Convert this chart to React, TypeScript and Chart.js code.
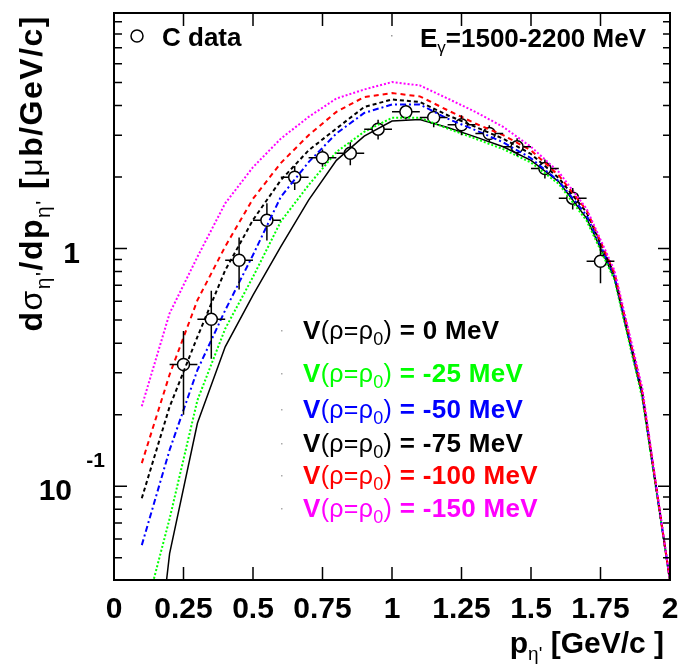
import React, { useEffect, useRef } from "react";
import { Chart, registerables } from "chart.js";

Chart.register(...registerables);

// ---------- data ----------
const curveP = [0.1, 0.2, 0.3, 0.4, 0.5, 0.6, 0.7, 0.8, 0.9, 1.0, 1.1, 1.2, 1.3, 1.4, 1.5, 1.6, 1.7, 1.8, 1.9, 2.0];
const v0 = [0.005, 0.052, 0.184, 0.386, 0.637, 1.02, 1.6, 2.35, 2.97, 3.44, 3.49, 3.23, 2.95, 2.68, 2.35, 1.91, 1.34, 0.75, 0.24, 0.04];
const v25 = [0.026, 0.073, 0.23, 0.46, 0.76, 1.3, 1.85, 2.55, 3.1, 3.55, 3.55, 3.2, 2.9, 2.62, 2.3, 1.87, 1.31, 0.74, 0.235, 0.04];
const v50 = [0.0565, 0.142, 0.308, 0.55, 0.94, 1.65, 2.31, 3.05, 3.72, 4.04, 4.04, 3.52, 3.15, 2.8, 2.4, 1.92, 1.38, 0.77, 0.245, 0.04];
const v75 = [0.089, 0.216, 0.425, 0.81, 1.32, 1.94, 2.59, 3.2, 3.94, 4.24, 4.14, 3.64, 3.25, 2.9, 2.5, 1.98, 1.42, 0.78, 0.25, 0.04];
const v100 = [0.125, 0.295, 0.606, 1.02, 1.62, 2.29, 3.0, 3.76, 4.34, 4.51, 4.37, 3.82, 3.36, 3.0, 2.59, 2.03, 1.45, 0.79, 0.25, 0.04];
const v150 = [0.217, 0.534, 0.922, 1.55, 2.2, 2.9, 3.58, 4.28, 4.67, 5.02, 4.86, 4.28, 3.76, 3.25, 2.68, 2.1, 1.47, 0.81, 0.26, 0.04];

const dataP = [0.25, 0.35, 0.45, 0.55, 0.65, 0.75, 0.85, 0.95, 1.05, 1.15, 1.25, 1.35, 1.45, 1.55, 1.65, 1.75];
const dataY = [0.325, 0.504, 0.893, 1.316, 1.995, 2.41, 2.52, 3.18, 3.76, 3.56, 3.32, 3.05, 2.68, 2.17, 1.63, 0.884];
const dataErr = [0.125, 0.16, 0.22, 0.235, 0.23, 0.2, 0.28, 0.3, 0.27, 0.32, 0.32, 0.25, 0.23, 0.2, 0.17, 0.17];
const dataXErr = 0.05;

const xTicks = [0, 0.25, 0.5, 0.75, 1, 1.25, 1.5, 1.75, 2];
const xTickLabels = ["0", "0.25", "0.5", "0.75", "1", "1.25", "1.5", "1.75", "2"];
const yMajor = [0.1, 1];
const yMinor = [0.05, 0.06, 0.07, 0.08, 0.09, 0.2, 0.3, 0.4, 0.5, 0.6, 0.7, 0.8, 0.9, 2, 3, 4, 5, 6, 7, 8, 9];

const potentials = ["0", "-25", "-50", "-75", "-100", "-150"];
const seriesColors = ["#000000", "#00ff00", "#0000ff", "#000000", "#ff0000", "#ff00ff"];

const FONT = '"Liberation Sans", Arial, Helvetica, sans-serif';

type Seg = { t: string; size: number; bold?: boolean; dy?: number; color?: string };

function font(size: number, bold?: boolean) {
  return `${bold ? "bold " : ""}${size}px ${FONT}`;
}

function drawRich(
  ctx: CanvasRenderingContext2D,
  segs: Seg[],
  x: number,
  y: number,
  align: "left" | "right" | "center",
  color: string,
  spacing = 0
) {
  let total = 0;
  for (const s of segs) {
    ctx.font = font(s.size, s.bold);
    for (const ch of Array.from(s.t)) total += ctx.measureText(ch).width + spacing;
  }
  let cx = align === "right" ? x - total : align === "center" ? x - total / 2 : x;
  ctx.textAlign = "left";
  ctx.textBaseline = "alphabetic";
  for (const s of segs) {
    ctx.font = font(s.size, s.bold);
    ctx.fillStyle = s.color || color;
    if (spacing === 0) {
      ctx.fillText(s.t, cx, y + (s.dy || 0));
      cx += ctx.measureText(s.t).width;
    } else {
      for (const ch of Array.from(s.t)) {
        ctx.fillText(ch, cx, y + (s.dy || 0));
        cx += ctx.measureText(ch).width + spacing;
      }
    }
  }
}

const decor = {
  id: "decor",
  afterDatasetsDraw(chart: any) {
    const ctx: CanvasRenderingContext2D = chart.ctx;
    const xs = chart.scales.x;
    const ys = chart.scales.y;
    const { left, right, top, bottom } = chart.chartArea;
    ctx.save();

    // error bars
    ctx.strokeStyle = "#000";
    ctx.lineWidth = 1.5;
    const r = 6;
    dataP.forEach((p, i) => {
      const px = xs.getPixelForValue(p);
      const py = ys.getPixelForValue(dataY[i]);
      const yHi = ys.getPixelForValue(dataY[i] + dataErr[i]);
      const yLo = ys.getPixelForValue(dataY[i] - dataErr[i]);
      const xL = xs.getPixelForValue(p - dataXErr);
      const xR = xs.getPixelForValue(p + dataXErr);
      ctx.beginPath();
      if (py - r > yHi) { ctx.moveTo(px, py - r); ctx.lineTo(px, yHi); }
      if (py + r < yLo) { ctx.moveTo(px, py + r); ctx.lineTo(px, yLo); }
      ctx.moveTo(px - r, py); ctx.lineTo(xL, py);
      ctx.moveTo(px + r, py); ctx.lineTo(xR, py);
      ctx.stroke();
    });

    // frame
    ctx.lineWidth = 2;
    ctx.strokeStyle = "#000";
    ctx.strokeRect(left, top, right - left, bottom - top);

    // ticks
    ctx.lineWidth = 1.5;
    ctx.beginPath();
    xTicks.forEach((v) => {
      const px = xs.getPixelForValue(v);
      ctx.moveTo(px, bottom); ctx.lineTo(px, bottom - 13);
      ctx.moveTo(px, top); ctx.lineTo(px, top + 13);
    });
    yMajor.forEach((v) => {
      const py = ys.getPixelForValue(v);
      ctx.moveTo(left, py); ctx.lineTo(left + 13, py);
      ctx.moveTo(right, py); ctx.lineTo(right - 12, py);
    });
    yMinor.forEach((v) => {
      const py = ys.getPixelForValue(v);
      ctx.moveTo(left, py); ctx.lineTo(left + 8, py);
      ctx.moveTo(right, py); ctx.lineTo(right - 7, py);
    });
    ctx.stroke();

    // x tick labels
    ctx.fillStyle = "#000";
    ctx.font = font(30, true);
    ctx.textAlign = "center";
    ctx.textBaseline = "alphabetic";
    xTicks.forEach((v, i) => {
      ctx.fillText(xTickLabels[i], xs.getPixelForValue(v), 618);
    });

    // y tick labels
    ctx.textAlign = "right";
    ctx.font = font(30, true);
    ctx.fillText("1", 80, ys.getPixelForValue(1) + 14);
    ctx.fillText("10", 72, ys.getPixelForValue(0.1) + 14);
    ctx.font = font(21, true);
    ctx.fillText("-1", 105, ys.getPixelForValue(0.1) - 19);

    // x title
    drawRich(ctx, [
      { t: "p", size: 30, bold: true },
      { t: "η'", size: 19, dy: 7 },
      { t: " [GeV/c ]", size: 30, bold: true },
    ], 664, 653, "right", "#000");

    // y title (rotated)
    ctx.save();
    ctx.translate(42, 15);
    ctx.rotate(-Math.PI / 2);
    drawRich(ctx, [
      { t: "d", size: 32, bold: true },
      { t: "σ", size: 32 },
      { t: "η'", size: 21, dy: 8 },
      { t: "/dp", size: 32, bold: true },
      { t: "η'", size: 21, dy: 8 },
      { t: " [", size: 32, bold: true },
      { t: "μ", size: 32 },
      { t: "b/GeV/c]", size: 32, bold: true },
    ], 0, 0, "right", "#000", 1.5);
    ctx.restore();

    // "C data" legend
    ctx.beginPath();
    ctx.lineWidth = 1.5;
    ctx.arc(137, 36, 6, 0, Math.PI * 2);
    ctx.stroke();
    ctx.font = font(26, true);
    ctx.textAlign = "left";
    ctx.fillStyle = "#000";
    ctx.fillText("C data", 162, 46);

    // energy label
    ctx.fillStyle = "#999";
    ctx.fillRect(391, 35, 1.5, 1.5);
    drawRich(ctx, [
      { t: "E", size: 26, bold: true },
      { t: "γ", size: 17, dy: 6 },
      { t: "=1500-2200 MeV", size: 26, bold: true },
    ], 646, 47, "right", "#000");

    // potentials legend
    const baselines = [339, 382, 418, 452, 484, 517];
    potentials.forEach((pv, i) => {
      const c = seriesColors[i];
      const yb = baselines[i];
      ctx.fillStyle = "#aaa";
      ctx.fillRect(281, yb - 9, 1.5, 1.5);
      drawRich(ctx, [
        { t: "V", size: 26, bold: true },
        { t: "(ρ=ρ", size: 25 },
        { t: "0", size: 18, dy: 6 },
        { t: ")", size: 25 },
        { t: ` = ${pv} MeV`, size: 26, bold: true },
      ], 303, yb, "left", c, 0.3);
    });

    ctx.restore();
  },
};

function mk(vals: number[]) {
  return curveP.map((p, i) => ({ x: p, y: vals[i] }));
}

export default function App() {
  const ref = useRef<HTMLCanvasElement | null>(null);
  useEffect(() => {
    if (!ref.current) return;
    const line = (label: string, vals: number[], color: string, dash: number[], width: number) => ({
      label,
      data: mk(vals),
      borderColor: color,
      borderWidth: width,
      borderDash: dash,
      pointRadius: 0,
      fill: false,
      tension: 0,
    });
    const chart = new Chart(ref.current, {
      type: "line",
      data: {
        datasets: [
          line("-150 MeV", v150, "#ff00ff", [2, 2], 2),
          line("-100 MeV", v100, "#ff0000", [5, 4], 2),
          line("-75 MeV", v75, "#000000", [4, 3], 2),
          line("-50 MeV", v50, "#0000ff", [6, 3, 2, 3], 2),
          line("-25 MeV", v25, "#00ff00", [2, 2], 2),
          line("0 MeV", v0, "#000000", [], 1.5),
          {
            label: "C data",
            type: "scatter",
            data: dataP.map((p, i) => ({ x: p, y: dataY[i] })),
            pointRadius: 6,
            pointBorderWidth: 1.5,
            borderColor: "#000",
            pointBorderColor: "#000",
            backgroundColor: "rgba(0,0,0,0)",
            pointBackgroundColor: "rgba(0,0,0,0)",
            showLine: false,
          } as any,
        ],
      },
      options: {
        responsive: false,
        animation: false,
        devicePixelRatio: 1,
        events: [],
        layout: { padding: { left: 114, top: 13, right: 9, bottom: 85 } },
        plugins: { legend: { display: false }, tooltip: { enabled: false } },
        scales: {
          x: { type: "linear", min: 0, max: 2, display: false },
          y: { type: "logarithmic", min: 0.0403, max: 9.8, display: false },
        },
      },
      plugins: [decor],
    });
    return () => chart.destroy();
  }, []);
  return (
    <div style={{ position: "absolute", left: 0, top: 0, width: 679, height: 665, background: "#fff" }}>
      <canvas ref={ref} width={679} height={665} />
    </div>
  );
}
